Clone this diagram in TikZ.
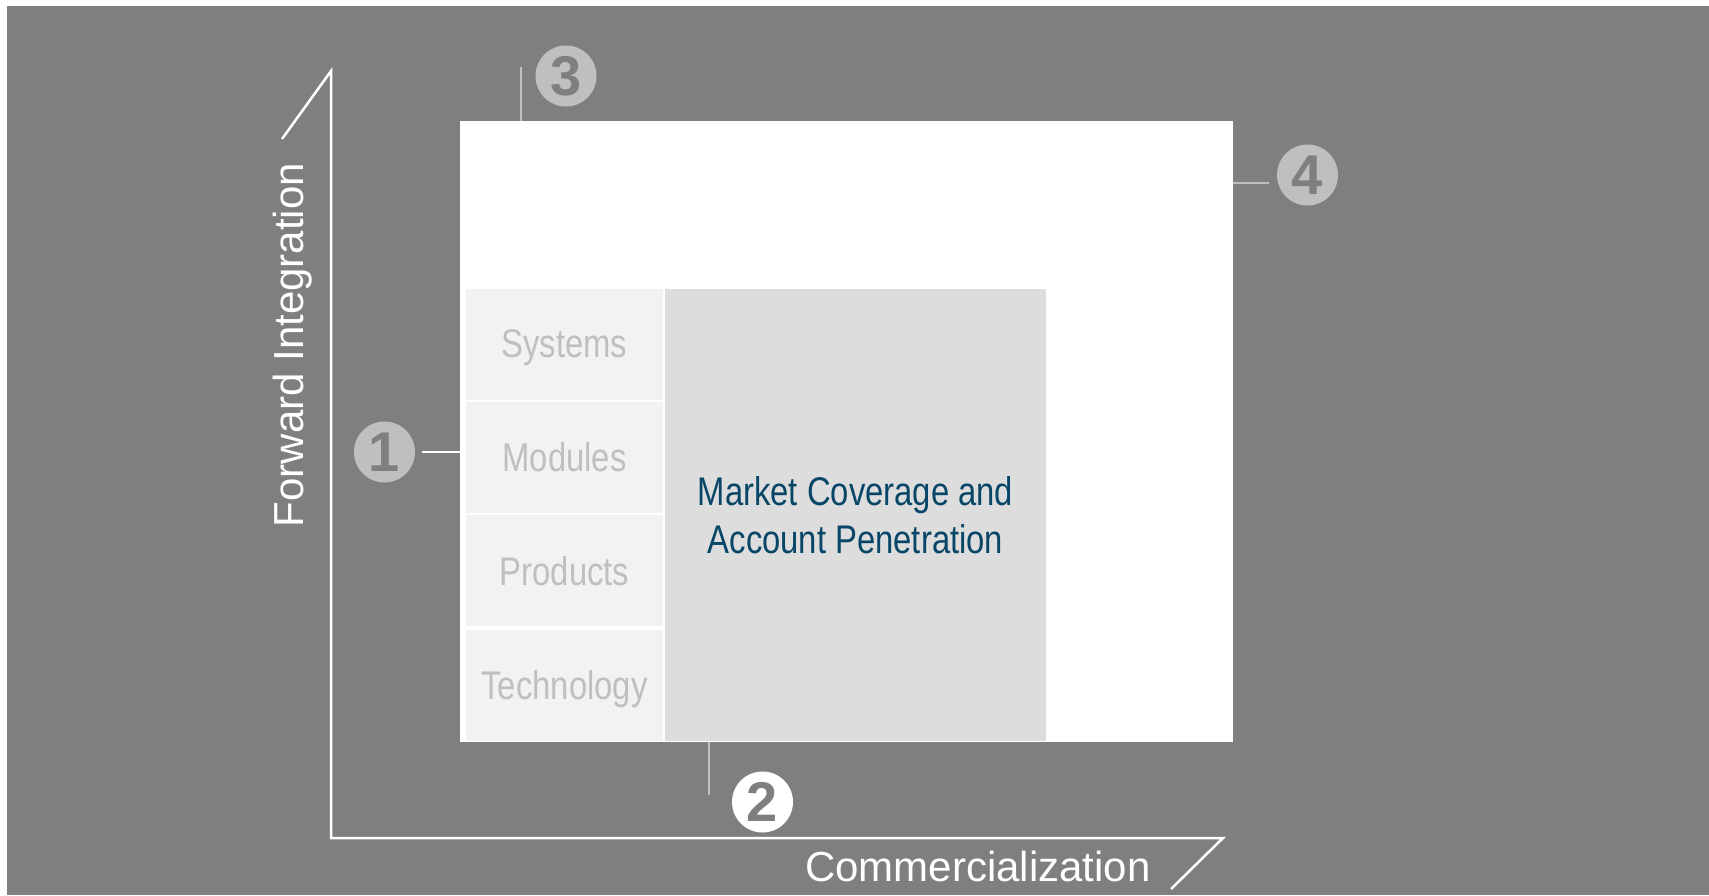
\documentclass[tikz,border=0pt]{standalone}
\usepackage{fontspec}
\setmainfont{Liberation Sans}
\newfontfamily\narrowfont[FakeStretch=0.82]{Liberation Sans}
\definecolor{bg}{RGB}{127,127,127}
\definecolor{cellfill}{RGB}{242,242,242}
\definecolor{mainfill}{RGB}{221,221,221}
\definecolor{celltext}{RGB}{191,191,191}
\definecolor{maintext}{RGB}{8,70,104}
\definecolor{callgray}{RGB}{191,191,191}
\tikzset{
  cellbox/.style={fill=cellfill, inner sep=0pt, minimum width=197pt, minimum height=111pt,
    text=celltext, text depth=0pt, font=\narrowfont\fontsize{40}{44}\selectfont},
  callout/.style={circle, inner sep=0pt, minimum size=61pt, text=bg,
    font=\bfseries\fontsize{56}{56}\selectfont},
  axisline/.style={draw=white, line width=2.5pt},
  leader/.style={draw=callgray, line width=2pt},
  axislabel/.style={text=white, inner sep=0pt, font=\fontsize{42}{48}\selectfont},
}
\begin{document}
\begin{tikzpicture}[x=1pt,y=-1pt]
\useasboundingbox (0,0) rectangle (1709,895);
\fill[bg] (7,6) rectangle (1709,895);
% big white panel
\node[fill=white, inner sep=0pt, minimum width=773pt, minimum height=621pt] (panel) at (846.5,431.5) {};
% cells
\node[cellbox] (sys) at (564.5,344) {Systems};
\node[cellbox] (mod) at (564.5,457) {Modules};
\node[cellbox] (prod) at (564.5,570.5) {Products};
\node[cellbox] (tech) at (564.5,685) {Technology};
\node[fill=mainfill, inner sep=0pt, minimum width=381pt, minimum height=452pt,
  text=maintext, align=center, font=\narrowfont\fontsize{40}{48}\selectfont] (market) at (855.5,515)
  {Market Coverage and\\Account Penetration};
% axes
\coordinate (O) at (331,838);
\coordinate (Ytop) at (331,71);
\coordinate (Ydiag) at (282,139);
\coordinate (Xend) at (1223,838);
\coordinate (Xdiag) at (1171,889);
\draw[axisline, line join=miter] (Ydiag) -- (Ytop) -- (O) -- (Xend) -- (Xdiag);
\node[axislabel, rotate=90] (ylab) at (293,345) {Forward Integration};
\node[axislabel] (xlab) at (978,866) {Commercialization};
% callouts
\node[callout, fill=callgray] (c1) at (384.5,452) {1};
\node[callout, fill=white] (c2) at (762.5,802) {2};
\node[callout, fill=callgray] (c3) at (566,76) {3};
\node[callout, fill=callgray] (c4) at (1307.5,175) {4};
% leaders
\coordinate (l1) at (422,452);
\draw[draw=white, line width=2pt] (l1) -- (l1 -| panel.west);
\coordinate (l2) at (709,795);
\draw[leader] (l2) -- (l2 |- panel.south);
\coordinate (l3) at (521,67);
\draw[leader] (l3) -- (l3 |- panel.north);
\coordinate (l4) at (1269,183);
\draw[leader] (l4) -- (l4 -| panel.east);
\end{tikzpicture}
\end{document}
